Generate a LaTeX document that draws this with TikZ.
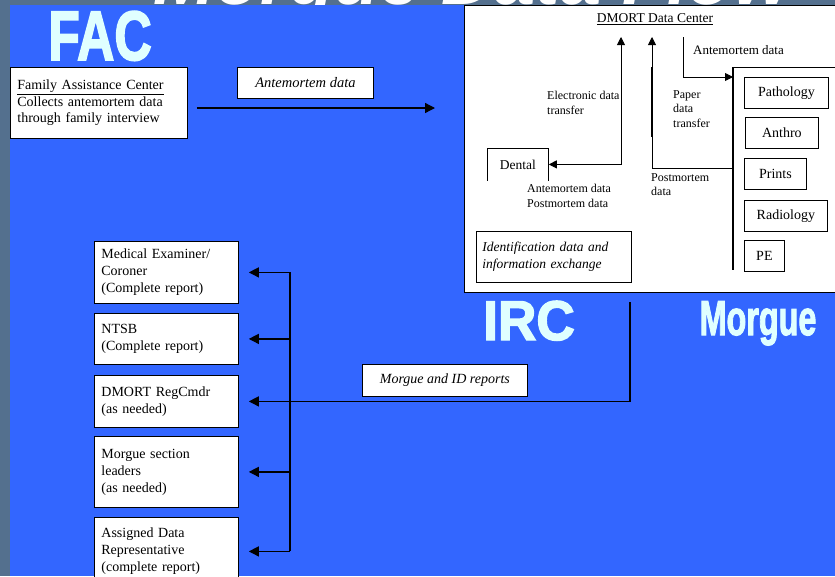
\documentclass[tikz,border=0pt]{standalone}
\usepackage{fontspec}
\setmainfont{Liberation Serif}
\newfontfamily\headfont{Liberation Sans}
\newfontfamily\areafont[FakeBold=2.5]{Liberation Sans Bold}
\usetikzlibrary{arrows.meta,positioning}

\definecolor{slidegray}{RGB}{84,112,142}
\definecolor{slideblue}{RGB}{51,102,255}
\definecolor{labelcyan}{RGB}{224,255,255}

\tikzset{
  box/.style={draw, fill=white, line width=0.8pt, anchor=north west, align=left},
  leftbox/.style={box, minimum width=144pt, text width=130pt, inner xsep=7pt,
    font=\fontsize{14}{17}\selectfont},
  mbox/.style={box, minimum height=31pt, inner xsep=6pt, font=\fontsize{14}{16}\selectfont},
  area/.style={text=labelcyan, inner sep=0, anchor=base},
  note/.style={inner sep=0, align=left, anchor=north west, font=\fontsize{12}{14.5}\selectfont},
  flow/.style={line width=1.3pt, -{Triangle[length=10pt,width=10pt]}},
  thin flow/.style={line width=0.9pt, -{Triangle[length=8pt,width=8pt]}},
}

\begin{document}
\begin{tikzpicture}[x=1pt,y=-1pt]
  \useasboundingbox (0,0) rectangle (835,576);
  \clip (0,0) rectangle (835,576);
  % slide background and title
  \fill[slidegray] (0,0) rectangle (835,576);
  \node[anchor=base, inner sep=0, text depth=0pt, text=white,
    font=\headfont\bfseries\itshape\fontsize{74}{74}\selectfont] (title) at (472,4) {Morgue Data Flow};
  \fill[slideblue] (10,5) rectangle (835,576);

  % area labels
  \node[area, xscale=0.74, font=\areafont\fontsize{70}{70}\selectfont] (faclbl) at (100,60) {FAC};
  \node[area, xscale=0.95, font=\areafont\fontsize{56}{56}\selectfont] (irclbl) at (529,340) {IRC};
  \node[area, xscale=0.66, font=\areafont\fontsize{49}{49}\selectfont] (morguelbl) at (758,335) {Morgue};

  % family assistance center
  \node[box, minimum width=177pt, minimum height=71pt, text width=163pt, inner xsep=7pt,
    font=\fontsize{14}{16.5}\selectfont] (fac) at (10,67)
    {\underline{Family Assistance Center}\\Collects antemortem data\\through family interview};
  \node[box, minimum width=136pt, minimum height=31pt, font=\itshape\fontsize{14.5}{16}\selectfont] (amdata) at (237,67) {Antemortem data};
  \coordinate (facend) at (435,108);
  \draw[flow, shorten <=9pt] (fac.east |- facend) -- (facend);

  % identification resource center
  \node[box, draw, line width=1.2pt, minimum width=380pt, minimum height=287pt] (irc) at (464,5) {};
  \node[inner sep=0, font=\fontsize{13.5}{15}\selectfont] (dmort) at (655,19) {\underline{DMORT Data Center}};
  \node[box, draw=none, fill=none, minimum width=61pt, minimum height=32pt, font=\fontsize{13.5}{16}\selectfont] (dental) at (487,148) {Dental};
  \draw[line width=0.8pt] (dental.south west) |- (dental.north east) -- (dental.south east);
  \node[box, minimum width=155pt, minimum height=51pt, text width=143pt, inner xsep=6pt,
    font=\itshape\fontsize{13.5}{17}\selectfont] (ident) at (476,231)
    {Identification data and\\information exchange};

  % morgue sections
  \coordinate (mtop) at (733,67);
  \coordinate (mbot) at (733,270);
  \draw[line width=0.8pt] (mtop) -- ++(110,0);
  \draw[line width=2pt] (mtop) -- (mbot);
  \node[mbox, minimum width=84pt] (path) at (744,77) {Pathology};
  \node[mbox, minimum width=73pt] (anth) at (745,117) {Anthro};
  \node[mbox, minimum width=62pt] (prin) at (744,158) {Prints};
  \node[mbox, minimum width=83pt] (radi) at (744,200) {Radiology};
  \node[mbox, minimum width=40pt] (pe) at (744,240) {PE};

  % data transfers
  \coordinate (etop) at (621,37);
  \coordinate (ptop) at (652,37);
  \coordinate (atop) at (683,37);
  \coordinate (pend) at (733,168);
  \coordinate (aend) at (733,77);
  \draw[thin flow, {Triangle[length=8pt,width=8pt]}-{Triangle[length=8pt,width=8pt]}] (etop) |- (dental.east);
  \draw[thin flow, {Triangle[length=8pt,width=8pt]}-] (ptop) |- (pend);
  \draw[line width=2pt] (ptop |- mtop) -- ++(0,70);
  \draw[thin flow] (atop) |- (aend);
  \node[note] (elec) at (547,91) {Electronic data\\transfer};
  \node[note] (ampm) at (527,184) {Antemortem data\\Postmortem data};
  \node[note] (paper) at (673,90) {Paper\\data\\transfer};
  \node[note] (pmdata) at (651,173) {Postmortem\\data};
  \node[note, anchor=west, font=\fontsize{13}{15}\selectfont] (amlbl) at (693,50) {Antemortem data};

  % reports
  \node[leftbox, minimum height=62pt] (mec) at (94,241) {Medical Examiner/\\Coroner\\(Complete report)};
  \node[leftbox, minimum height=51pt] (ntsb) at (94,313) {NTSB\\(Complete report)};
  \node[leftbox, minimum height=52pt] (dmr) at (94,375) {DMORT RegCmdr\\(as needed)};
  \node[leftbox, minimum height=71pt] (msl) at (94,436) {Morgue section\\leaders\\(as needed)};
  \node[leftbox, minimum height=68pt] (adr) at (94,517) {Assigned Data\\Representative\\(complete report)};
  \node[box, minimum width=165pt, minimum height=32pt, font=\itshape\fontsize{14}{16}\selectfont] (rep) at (362,364) {Morgue and ID reports};

  \coordinate (ircout) at (630,302);
  \coordinate (bus) at (290,0);
  \draw[flow, shorten >=10pt] (ircout) |- (dmr.east);
  \draw[line width=1.3pt] (bus |- mec.east) -- (bus |- adr.east);
  \foreach \n in {mec,ntsb,msl,adr}
    \draw[flow, shorten >=10pt] (bus |- \n.east) -- (\n.east);
\end{tikzpicture}
\end{document}
